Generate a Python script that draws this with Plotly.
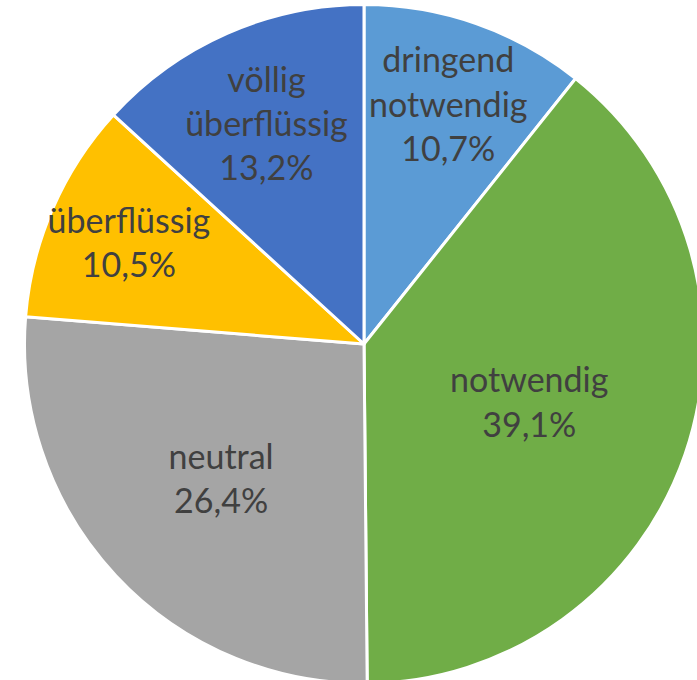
import plotly.graph_objects as go

categories = ["dringend notwendig", "notwendig", "neutral", "überflüssig", "völlig überflüssig"]
display_labels = ["dringend<br>notwendig", "notwendig", "neutral", "überflüssig", "völlig<br>überflüssig"]
values = [10.7, 39.1, 26.4, 10.5, 13.2]
colors = ["#5B9BD5", "#70AD47", "#A5A5A5", "#FFC000", "#4472C4"]

W, H = 720, 688
fig = go.Figure(go.Pie(
    labels=categories,
    values=values,
    customdata=display_labels,
    texttemplate="%{customdata}<br>%{value:.1f}%",
    textposition="inside",
    insidetextorientation="horizontal",
    sort=False,
    direction="clockwise",
    rotation=0,
    marker=dict(colors=colors, line=dict(color="white", width=3)),
    textfont=dict(family="Lato, Carlito, sans-serif", size=34, color="#404040"),
    hoverinfo="label+percent",
    domain=dict(x=[24.5 / W, 703.5 / W], y=[0, 1]),
))
fig.update_layout(
    width=W, height=H,
    margin=dict(l=0, r=0, t=0, b=0),
    showlegend=False,
    separators=",.",
    paper_bgcolor="white",
    uniformtext=dict(minsize=34, mode="show"),
)
fig.write_html(
    "out.html",
    config={"displayModeBar": False},
    post_script="document.body.style.margin='0';document.body.style.overflow='hidden';"
                "document.documentElement.style.overflow='hidden';",
)
